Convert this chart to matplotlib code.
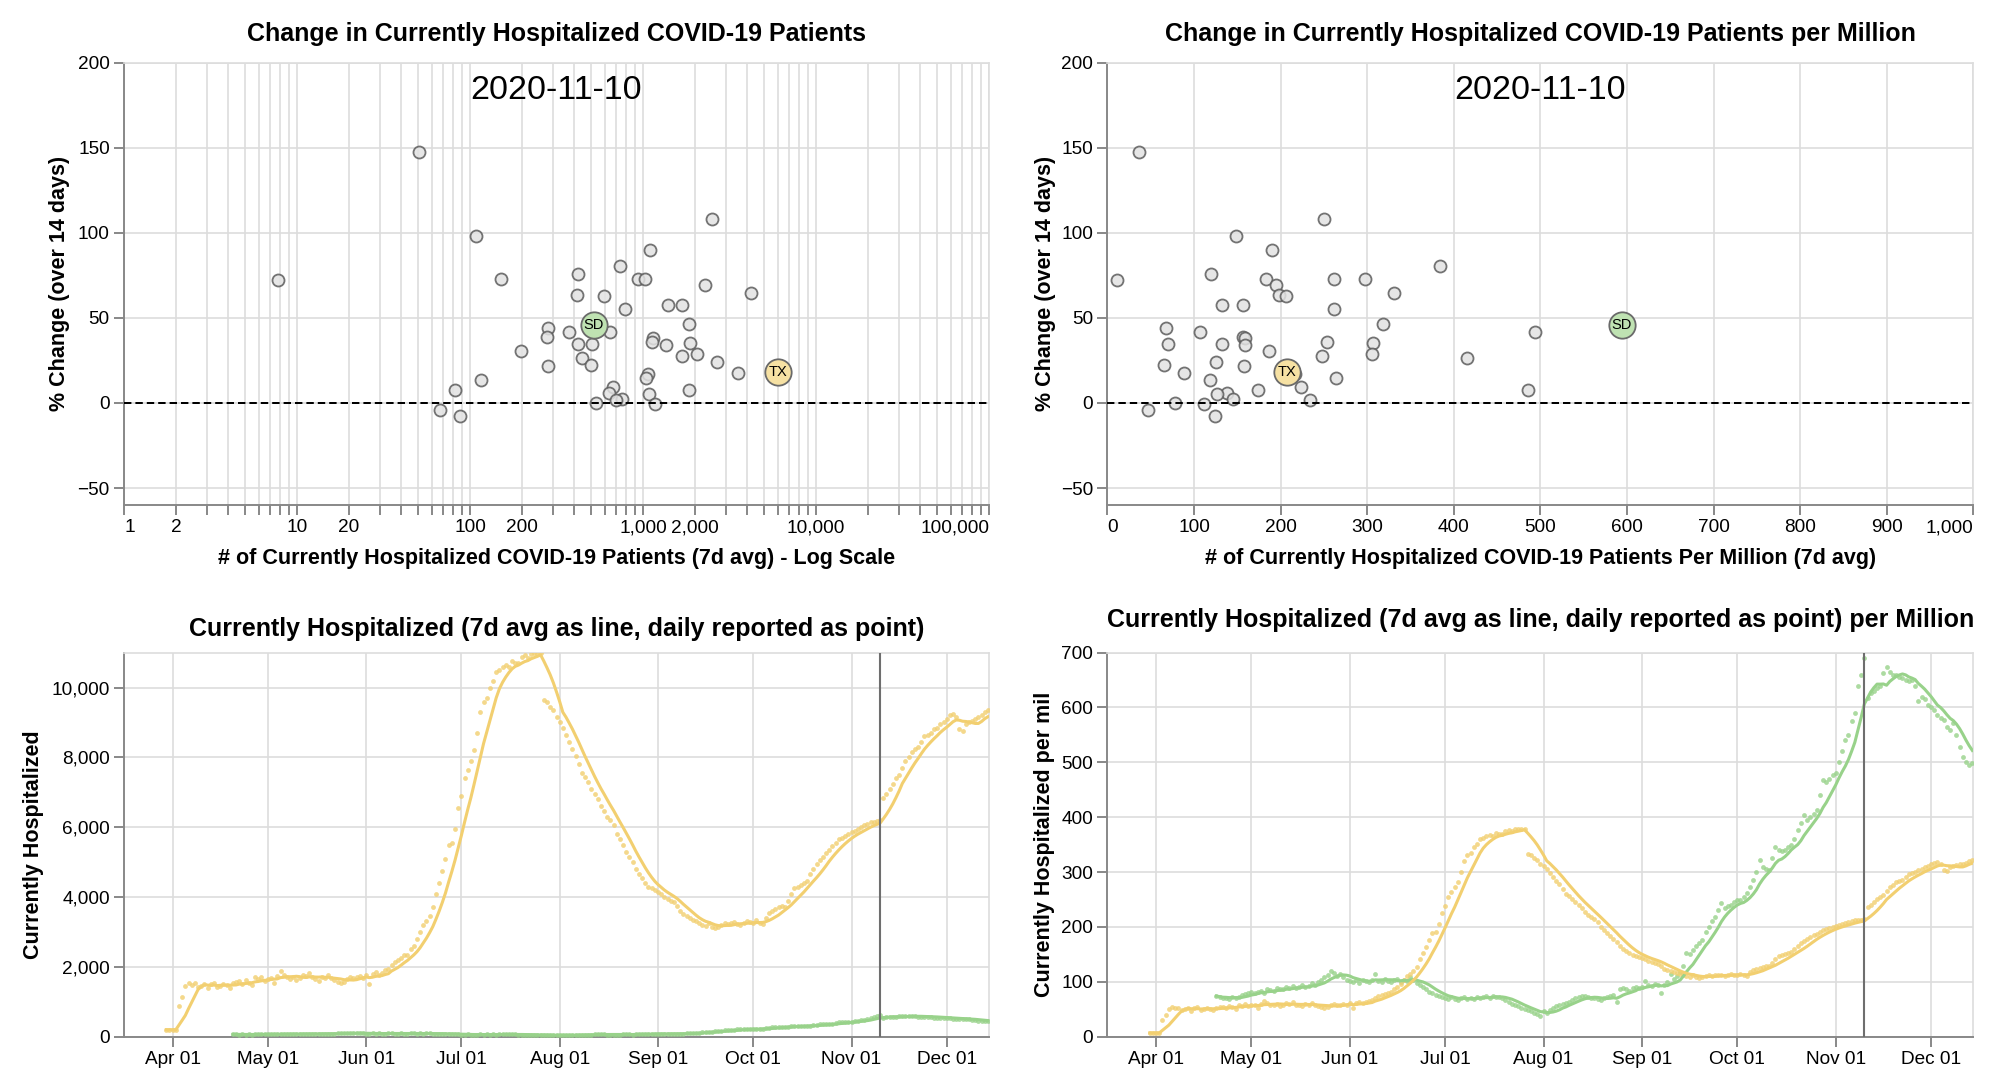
import logging

import matplotlib
matplotlib.use("Agg")
import matplotlib.dates as mdates
import matplotlib.pyplot as plt
import pandas as pd
from matplotlib.ticker import FixedLocator, FuncFormatter, NullLocator

logging.basicConfig(level=logging.INFO, format="%(asctime)s - %(message)s")
logger = logging.getLogger(__name__)

# --- DATA ---
SNAPSHOT_DATE = "2020-11-10"

# scatter: one entry per state, same order in all three lists
HOSP_7D = [50.5, 2506, 108, 1093, 733, 423, 151, 931, 1031, 7.8,
           2270, 4191, 414, 598, 1389, 1688, 783, 1853, 284, 373,
           645, 280, 1147, 1122, 1870, 423, 510, 1364, 196, 2051,
           1688, 442, 2690, 498, 284, 3525, 1064, 1040, 116, 671,
           81.5, 1845, 636, 1078, 760, 695, 537, 1173, 66.8, 87.9]
HOSP_PER_MIL = [36.5, 249.6, 148.8, 189.6, 383.5, 119.6, 182.7, 261.5, 297.3, 11.5,
                194.2, 330.4, 198.1, 205.8, 131.9, 156.2, 261.2, 318.8, 67.3, 106.5,
                493.8, 156.9, 158.5, 253.1, 306.2, 69.6, 132.7, 159.2, 186.5, 305.8,
                248.1, 415.8, 125.0, 65.4, 158.1, 88.8, 216.5, 263.8, 118.8, 223.8,
                173.5, 485.4, 137.7, 126.2, 145.4, 234.2, 78.5, 111.9, 46.5, 124.6]
PCT_CHANGE = [147.3, 108.0, 98.2, 90.0, 80.4, 76.0, 73.1, 73.1, 73.1, 72.0,
              69.4, 64.5, 63.3, 62.7, 57.3, 57.3, 55.5, 46.7, 44.3, 41.6,
              41.8, 38.8, 38.4, 35.6, 35.4, 34.5, 34.4, 34.3, 30.4, 29.0,
              27.5, 26.7, 24.3, 22.2, 22.0, 17.8, 16.9, 14.6, 13.4, 9.4,
              7.5, 7.5, 5.9, 5.5, 2.5, 1.6, 0.2, -0.5, -4.1, -7.8]

HIGHLIGHT_STATES = ["SD", "TX"]
HIGHLIGHT_HOSP_7D = [521, 6000]
HIGHLIGHT_PER_MIL = [593.9, 207.3]
HIGHLIGHT_PCT = [45.7, 18.4]

POPULATION_MIL = {"SD": 0.8847, "TX": 28.996}

# Texas, daily reported currently hospitalized (absolute), from 2020-03-30
TX_START = "2020-03-30"
TX_HOSP_DAILY = [
    200, 200, 200, 200, 870, 1150, 1440,
    1550, 1490, 1530, 1410, 1460, 1520, 1380,
    1500, 1550, 1420, 1460, 1520, 1480, 1400,
    1530, 1560, 1590, 1500, 1610, 1550, 1480,
    1700, 1640, 1720, 1600, 1650, 1690, 1540,
    1750, 1890, 1780, 1700, 1660, 1720, 1610,
    1680, 1760, 1740, 1810, 1700, 1650, 1600,
    1720, 1680, 1760, 1690, 1620, 1560, 1540,
    1580, 1650, 1720, 1680, 1700, 1750, 1690,
    1780, 1520, 1800, 1850, 1780, 1830, 1900,
    1950, 2050, 2150, 2200, 2250, 2330, 2350,
    2500, 2600, 2800, 3000, 3200, 3300, 3450,
    3700, 4100, 4400, 4750, 5100, 5500, 5550,
    5950, 6550, 6900, 7400, 7650, 7900, 8200,
    8700, 9300, 9600, 9700, 10000, 10200, 10450,
    10500, 10600, 10650, 10600, 10750, 10700, 10700,
    10880, 10930, 10850, 10960, 10990, 10950, 10980,
    9650, 9600, 9450, 9350, 9150, 9000, 8850,
    8650, 8450, 8250, 8050, 7800, 7550, 7450,
    7300, 7100, 6950, 6800, 6600, 6450, 6300,
    6200, 6050, 5800, 5650, 5500, 5300, 5150,
    5000, 4800, 4650, 4550, 4400, 4300, 4250,
    4200, 4150, 4100, 4000, 3950, 3900, 3850,
    3750, 3600, 3500, 3450, 3400, 3350, 3300,
    3250, 3200, 3180, 3250, 3150, 3100, 3150,
    3200, 3250, 3220, 3250, 3280, 3240, 3200,
    3250, 3300, 3280, 3270, 3330, 3250, 3230,
    3400, 3550, 3600, 3650, 3700, 3750, 3720,
    3900, 4100, 4250, 4300, 4350, 4400, 4450,
    4650, 4800, 4950, 5050, 5150, 5250, 5350,
    5450, 5550, 5650, 5700, 5750, 5800, 5850,
    5900, 5950, 6000, 6050, 6100, 6150, 6150,
    6170, 6200, 6850, 6950, 7100, 7250, 7400,
    7500, 7700, 7900, 8000, 8150, 8250, 8300,
    8450, 8600, 8650, 8700, 8800, 8850, 8950,
    9000, 9100, 9200, 9250, 9150, 8800, 8750,
    8950, 9000, 9050, 9100, 9150, 9200, 9300,
    9350,
]

# South Dakota, daily reported currently hospitalized per million, from 2020-04-20
SD_START = "2020-04-20"
SD_HOSP_PER_MIL_DAILY = [
    74, 72, 70, 71, 69, 72, 70,
    73, 76, 78, 80, 82, 79, 81,
    84, 80, 86, 85, 83, 88, 87,
    86, 90, 88, 92, 89, 91, 94,
    90, 93, 97, 95, 99, 104, 108,
    112, 120, 116, 110, 114, 108, 104,
    102, 100, 104, 98, 103, 101, 100,
    104, 115, 102, 100, 105, 101, 99,
    103, 106, 100, 104, 102, 108, 103,
    98, 94, 90, 86, 82, 80, 76,
    74, 72, 70, 68, 72, 69, 66,
    70, 72, 68, 71, 69, 73, 70,
    72, 74, 71, 75, 73, 72, 70,
    66, 63, 60, 58, 55, 52, 50,
    48, 46, 44, 42, 38, 47, 44,
    48, 52, 55, 58, 60, 62, 64,
    66, 70, 72, 75, 74, 72, 70,
    70, 68, 66, 70, 72, 74, 76,
    64, 86, 88, 86, 84, 88, 90,
    88, 90, 102, 95, 92, 96, 94,
    79, 95, 100, 115, 105, 110, 118,
    128, 152, 150, 158, 165, 170, 176,
    190, 200, 210, 219, 230, 243, 235,
    238, 240, 245, 249, 250, 255, 262,
    273, 285, 300, 322, 310, 305, 304,
    325, 345, 340, 338, 340, 345, 350,
    360, 377, 390, 404, 395, 400, 405,
    413, 440, 468, 465, 470, 477, 480,
    500, 520, 540, 550, 575, 590, 640,
    660, 690, 617, 626, 630, 635, 640,
    662, 674, 665, 659, 660, 655, 653,
    650, 648, 650, 640, 611, 620, 615,
    604, 600, 595, 586, 580, 577, 565,
    559, 571, 550, 528, 510, 500, 495,
    498,
]

# --- STYLE ---
FIG_SIZE = (20, 10.87)
DPI = 100
FONT = ["Liberation Sans", "DejaVu Sans"]

STATE_COLORS = {"SD": "#98d28a", "TX": "#f2cf70"}
HIGHLIGHT_FILL = {"SD": "#bfe2b2", "TX": "#f6e1a3"}
GREY_FILL = "#e2e2e2"
GREY_EDGE = "#5c5c5c"
GRID_COLOR = "#dddddd"
DOMAIN_COLOR = "#888888"
RULE_COLOR = "#6e6e6e"

TITLE_SIZE = 18
AXIS_TITLE_SIZE = 15.5
LABEL_SIZE = 13.7
DATE_SIZE = 24.5

# axes rectangles in figure fractions (left, bottom, width, height)
RECT_TL = [0.0620, 0.5354, 0.4325, 0.4069]
RECT_TR = [0.5537, 0.5354, 0.4330, 0.4069]
RECT_BL = [0.0620, 0.0463, 0.4325, 0.3533]
RECT_BR = [0.5537, 0.0463, 0.4330, 0.3533]

X_START = pd.Timestamp("2020-03-16 16:00")
X_END = pd.Timestamp("2020-12-14 08:00")


def thousands(v, _pos=None):
    return f"{v:,.0f}"


def build_series():
    """Daily values plus trailing 7 day average for both states."""
    tx = pd.DataFrame(
        {"abs": TX_HOSP_DAILY},
        index=pd.date_range(TX_START, periods=len(TX_HOSP_DAILY), freq="D"),
    )
    tx["per_mil"] = tx["abs"] / POPULATION_MIL["TX"]

    sd = pd.DataFrame(
        {"per_mil": SD_HOSP_PER_MIL_DAILY},
        index=pd.date_range(SD_START, periods=len(SD_HOSP_PER_MIL_DAILY), freq="D"),
    )
    sd["abs"] = sd["per_mil"] * POPULATION_MIL["SD"]

    for df in (tx, sd):
        df["abs_7d"] = df["abs"].rolling(7, min_periods=1).mean()
        df["per_mil_7d"] = df["per_mil"].rolling(7, min_periods=1).mean()
    return {"SD": sd, "TX": tx}


def style_axes(ax):
    ax.set_axisbelow(True)
    ax.grid(True, color=GRID_COLOR, linewidth=1.2)
    for side in ("left", "bottom"):
        ax.spines[side].set_color(DOMAIN_COLOR)
        ax.spines[side].set_linewidth(1.4)
    for side in ("top", "right"):
        ax.spines[side].set_color(GRID_COLOR)
        ax.spines[side].set_linewidth(1.2)
    ax.tick_params(axis="both", which="both", direction="out", length=7.2,
                   width=1.4, color=DOMAIN_COLOR, labelsize=LABEL_SIZE, pad=3)


def add_texts(ax, title, title_y, ylabel, ylabel_x, xlabel=None):
    ax.text(0.5, title_y, title, transform=ax.transAxes, ha="center",
            va="center", fontsize=TITLE_SIZE, fontweight="bold")
    ax.text(ylabel_x, 0.5, ylabel, transform=ax.transAxes, rotation=90,
            rotation_mode="anchor", ha="center", va="center",
            fontsize=AXIS_TITLE_SIZE, fontweight="bold")
    if xlabel:
        ax.text(0.5, -0.122, xlabel, transform=ax.transAxes, ha="center",
                va="center", fontsize=AXIS_TITLE_SIZE, fontweight="bold")


def flush_x_labels(ax):
    labels = ax.get_xticklabels()
    labels[0].set_ha("left")
    labels[-1].set_ha("right")


def draw_scatter(ax, xs, hx):
    style_axes(ax)
    ax.set_ylim(-60, 200)
    ax.set_yticks([-50, 0, 50, 100, 150, 200])

    ax.scatter(xs, PCT_CHANGE, s=75, facecolor=GREY_FILL, edgecolor=GREY_EDGE,
               linewidth=1.3, alpha=0.85, zorder=3)
    ax.axhline(0, color="black", linewidth=1.44, linestyle=(0, (3.7, 2.0)), zorder=4)

    for state, x, y in zip(HIGHLIGHT_STATES, hx, HIGHLIGHT_PCT):
        ax.scatter([x], [y], s=360, facecolor=HIGHLIGHT_FILL[state],
                   edgecolor="#6a6a6a", linewidth=1.3, zorder=5)
        ax.text(x, y, state, ha="center", va="center", fontsize=10.5, zorder=6)

    ax.text(0.5, 0.938, SNAPSHOT_DATE, transform=ax.transAxes, ha="center",
            va="center", fontsize=DATE_SIZE)


def draw_top_left(ax):
    draw_scatter(ax, HOSP_7D, HIGHLIGHT_HOSP_7D)
    ax.set_xscale("log")
    ax.set_xlim(1, 1e5)
    ticks = [m * 10 ** e for e in range(5) for m in range(1, 10)] + [10 ** 5]
    shown = {1, 2, 10, 20, 100, 200, 1000, 2000, 10000, 100000}
    ax.xaxis.set_major_locator(FixedLocator(ticks))
    ax.xaxis.set_minor_locator(NullLocator())
    ax.set_xticklabels([thousands(t) if t in shown else "" for t in ticks])
    flush_x_labels(ax)
    add_texts(ax, "Change in Currently Hospitalized COVID-19 Patients", 1.065,
              "% Change (over 14 days)", -0.0751,
              "# of Currently Hospitalized COVID-19 Patients (7d avg) - Log Scale")


def draw_top_right(ax):
    draw_scatter(ax, HOSP_PER_MIL, HIGHLIGHT_PER_MIL)
    ax.set_xlim(0, 1000)
    ax.set_xticks(range(0, 1001, 100))
    ax.xaxis.set_major_formatter(FuncFormatter(thousands))
    flush_x_labels(ax)
    add_texts(ax, "Change in Currently Hospitalized COVID-19 Patients per Million", 1.065,
              "% Change (over 14 days)", -0.0719,
              "# of Currently Hospitalized COVID-19 Patients Per Million (7d avg)")


def draw_timeseries(ax, series, col, ymax, ystep):
    style_axes(ax)
    for state, df in series.items():
        color = STATE_COLORS[state]
        ax.scatter(df.index, df[col], s=12, color=color, alpha=0.8,
                   linewidth=0, zorder=3)
        ax.plot(df.index, df[col + "_7d"], color=color, linewidth=2.2, zorder=4)
    ax.axvline(pd.Timestamp(SNAPSHOT_DATE), color=RULE_COLOR, linewidth=1.5, zorder=5)

    ax.set_xlim(X_START, X_END)
    ax.xaxis.set_major_locator(mdates.MonthLocator(bymonth=range(4, 13)))
    ax.xaxis.set_major_formatter(mdates.DateFormatter("%b %d"))
    ax.set_ylim(0, ymax)
    ax.set_yticks(range(0, int(ymax) + 1 if ymax % ystep == 0 else int(ymax), ystep))
    ax.yaxis.set_major_formatter(FuncFormatter(thousands))


def main():
    plt.rcParams["font.family"] = FONT
    series = build_series()

    fig = plt.figure(figsize=FIG_SIZE, dpi=DPI)
    ax_tl = fig.add_axes(RECT_TL)
    ax_tr = fig.add_axes(RECT_TR)
    ax_bl = fig.add_axes(RECT_BL)
    ax_br = fig.add_axes(RECT_BR)

    draw_top_left(ax_tl)
    draw_top_right(ax_tr)

    draw_timeseries(ax_bl, series, "abs", 11000, 2000)
    add_texts(ax_bl, "Currently Hospitalized (7d avg as line, daily reported as point)",
              1.0617, "Currently Hospitalized", -0.105)

    draw_timeseries(ax_br, series, "per_mil", 700, 100)
    add_texts(ax_br, "Currently Hospitalized (7d avg as line, daily reported as point) per Million",
              1.085, "Currently Hospitalized per mil", -0.0731)

    fig.savefig("out.png", dpi=DPI)
    plt.close(fig)
    logger.info("Saved out.png")


if __name__ == "__main__":
    main()
